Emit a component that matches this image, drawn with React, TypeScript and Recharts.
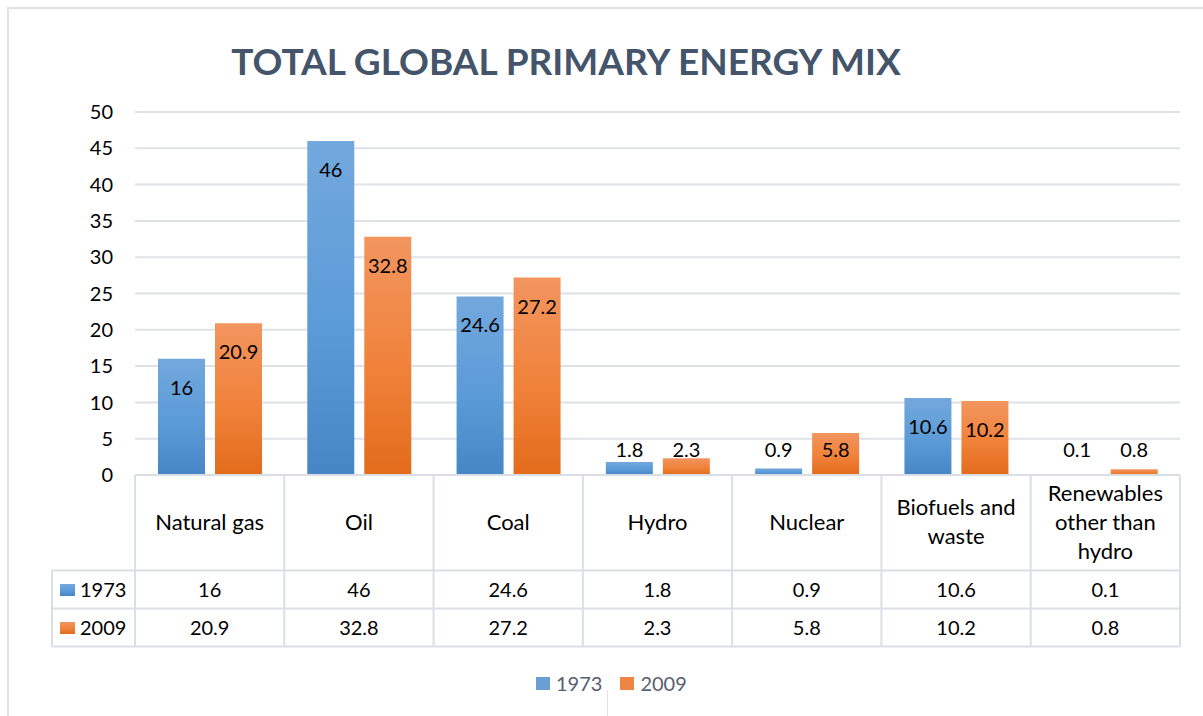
import React from 'react';
import { BarChart, Bar, XAxis, YAxis, CartesianGrid } from 'recharts';

const categories = ['Natural gas', 'Oil', 'Coal', 'Hydro', 'Nuclear', 'Biofuels and waste', 'Renewables other than hydro'];
const headerLines = [['Natural gas'], ['Oil'], ['Coal'], ['Hydro'], ['Nuclear'], ['Biofuels and', 'waste'], ['Renewables', 'other than', 'hydro']];
const values1973 = [16, 46, 24.6, 1.8, 0.9, 10.6, 0.1];
const values2009 = [20.9, 32.8, 27.2, 2.3, 5.8, 10.2, 0.8];
const seriesNames = ['1973', '2009'];
const yTicks = [0, 5, 10, 15, 20, 25, 30, 35, 40, 45, 50];

const data = categories.map((name, i) => ({ name, y1973: values1973[i], y2009: values2009[i] }));

const FONT = 'Lato, "Open Sans", sans-serif';
const W = 1203;
const H = 716;
const PLOT_LEFT = 135;
const PLOT_RIGHT = 1180;
const COL_W = (PLOT_RIGHT - PLOT_LEFT) / categories.length;
const LINE = '#DADFE6';

function TableTick(props: any) {
  const { x, y, payload } = props;
  const i = payload.index;
  const left = x - COL_W / 2;
  const right = x + COL_W / 2;
  const r1 = y + 95.5;
  const r2 = y + 133.5;
  const r3 = y + 171.5;
  const lines = headerLines[i];
  return (
    <g fontFamily={FONT} fontSize={20} fill="#000">
      <line x1={left} x2={left} y1={y} y2={r3} stroke={LINE} strokeWidth={2} />
      {i === categories.length - 1 && <line x1={right} x2={right} y1={y} y2={r3} stroke={LINE} strokeWidth={2} />}
      <line x1={left} x2={right} y1={r1} y2={r1} stroke={LINE} strokeWidth={2} />
      <line x1={left} x2={right} y1={r2} y2={r2} stroke={LINE} strokeWidth={2} />
      <line x1={left} x2={right} y1={r3} y2={r3} stroke={LINE} strokeWidth={2} />
      {lines.map((t, k) => (
        <text key={k} x={x} y={y + 46 + (k - (lines.length - 1) / 2) * 29} textAnchor="middle" dominantBaseline="central" fontSize={22}>
          {t}
        </text>
      ))}
      <text x={x} y={y + 114} textAnchor="middle" dominantBaseline="central">{values1973[i]}</text>
      <text x={x} y={y + 152} textAnchor="middle" dominantBaseline="central">{values2009[i]}</text>
      {i === 0 && (
        <g>
          <line x1={52} x2={left} y1={r1} y2={r1} stroke={LINE} strokeWidth={2} />
          <line x1={52} x2={left} y1={r2} y2={r2} stroke={LINE} strokeWidth={2} />
          <line x1={52} x2={left} y1={r3} y2={r3} stroke={LINE} strokeWidth={2} />
          <line x1={52} x2={52} y1={r1} y2={r3} stroke={LINE} strokeWidth={2} />
          <rect x={60} y={y + 109} width={15} height={12} fill="url(#gBlue)" />
          <text x={80} y={y + 114} dominantBaseline="central">{seriesNames[0]}</text>
          <rect x={60} y={y + 147} width={15} height={12} fill="url(#gOrange)" />
          <text x={80} y={y + 152} dominantBaseline="central">{seriesNames[1]}</text>
        </g>
      )}
    </g>
  );
}

function BarLabel(props: any) {
  const { x, y, width, height, value } = props;
  const cy = Math.min(y + 28, y + height - 26);
  return (
    <text x={x + width / 2} y={cy} textAnchor="middle" dominantBaseline="central" fontSize={20} fontFamily={FONT} fill="#000">
      {value}
    </text>
  );
}

function LegendBox() {
  const item = (label: string, color: string, gap: number) => (
    <div style={{ display: 'flex', alignItems: 'center', marginRight: gap }}>
      <div style={{ width: 14, height: 13, background: color, marginRight: 6 }} />
      <span>{label}</span>
    </div>
  );
  return (
    <div
      style={{
        position: 'absolute', left: 536, top: 671, display: 'flex', alignItems: 'center',
        fontFamily: FONT, fontSize: 20, color: '#56606F', lineHeight: '24px',
      }}
    >
      {item(seriesNames[0], '#6A9FD6', 18)}
      {item(seriesNames[1], '#EE8540', 0)}
    </div>
  );
}

export default function App() {
  return (
    <div style={{ position: 'absolute', left: 0, top: 0, width: W, height: H, overflow: 'hidden', background: '#fff' }}>
      <div style={{ position: 'absolute', left: 7, top: 7, width: 1400, height: 900, borderTop: '2px solid #DFE3E8', borderLeft: '2px solid #DFE3E8' }} />
      <div style={{ position: 'absolute', left: 607, top: 690, width: 1, height: 26, background: '#E4E4E4' }} />
      <div
        style={{
          position: 'absolute', left: 166, top: 42, width: 800, textAlign: 'center',
          fontFamily: FONT, fontWeight: 700, fontSize: 37, lineHeight: 1, color: '#44546A',
        }}
      >
        TOTAL GLOBAL PRIMARY ENERGY MIX
      </div>
      <div style={{ position: 'absolute', left: 0, top: 0 }}>
        <BarChart width={W} height={H} data={data} margin={{ top: 112, right: W - PLOT_RIGHT, bottom: 70, left: 0 }} barSize={47} barGap={10}>
          <defs>
            <linearGradient id="gBlue" x1="0" y1="0" x2="0" y2="1">
              <stop offset="0%" stopColor="#73A8DD" />
              <stop offset="55%" stopColor="#5B9BD8" />
              <stop offset="100%" stopColor="#4686C5" />
            </linearGradient>
            <linearGradient id="gOrange" x1="0" y1="0" x2="0" y2="1">
              <stop offset="0%" stopColor="#F2955F" />
              <stop offset="55%" stopColor="#F0823A" />
              <stop offset="100%" stopColor="#E36B1B" />
            </linearGradient>
          </defs>
          <CartesianGrid vertical={false} stroke="#DEE2E7" strokeWidth={2} />
          <YAxis
            domain={[0, 50]}
            ticks={yTicks}
            width={PLOT_LEFT}
            axisLine={false}
            tickLine={false}
            tickSize={0}
            tickMargin={22}
            tick={{ fontSize: 20, fill: '#000', fontFamily: FONT }}
          />
          <XAxis
            dataKey="name"
            height={171}
            interval={0}
            tickLine={false}
            tickSize={0}
            tickMargin={0}
            axisLine={{ stroke: LINE, strokeWidth: 2 }}
            tick={TableTick}
          />
          <Bar dataKey="y1973" name={seriesNames[0]} fill="url(#gBlue)" isAnimationActive={false} label={BarLabel} />
          <Bar dataKey="y2009" name={seriesNames[1]} fill="url(#gOrange)" isAnimationActive={false} label={BarLabel} />
        </BarChart>
      </div>
      <LegendBox />
    </div>
  );
}
